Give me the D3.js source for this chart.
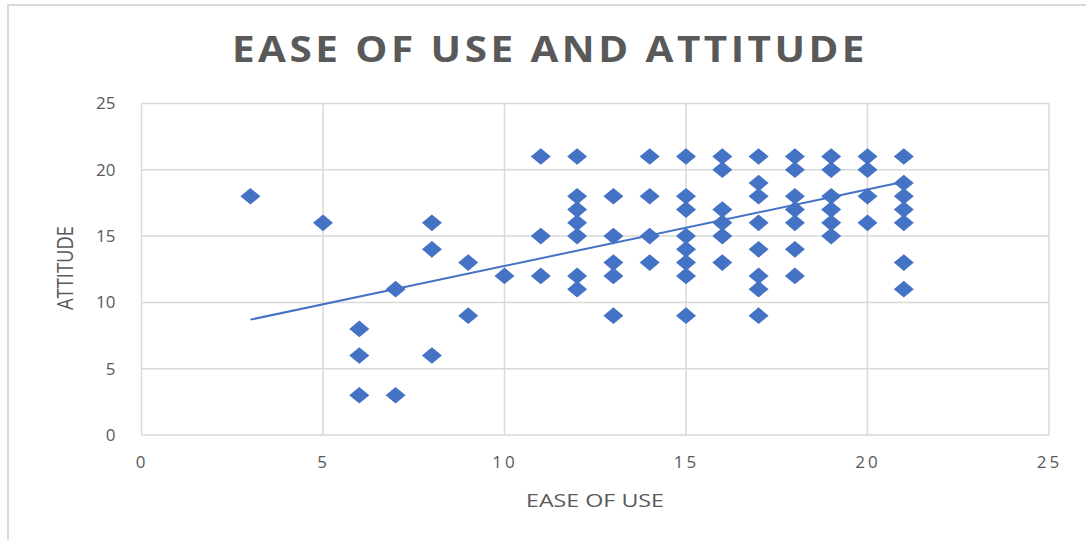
<!DOCTYPE html>
<html>
<head>
<meta charset="utf-8">
<script src="https://cdn.jsdelivr.net/npm/d3@7"></script>
<style>
    body { margin: 0; background: #fff; }
    svg { display: block; font-family: "Open Sans", sans-serif; }
</style>
</head>
<body>
<div id="chart"></div>
<script>
// ease of use value for each column of points, and the attitude values seen in that column
const easeValues = [3, 5, 6, 7, 8, 9, 10, 11, 12, 13, 14, 15, 16, 17, 18, 19, 20, 21];
const attitudeValues = [
    [18],
    [16],
    [8, 6, 3],
    [11, 3],
    [16, 14, 6],
    [13, 9],
    [12],
    [21, 15, 12],
    [21, 18, 17, 16, 15, 12, 11],
    [18, 15, 13, 12, 9],
    [21, 18, 15, 13],
    [21, 18, 17, 15, 14, 13, 12, 9],
    [21, 20, 17, 16, 15, 13],
    [21, 19, 18, 16, 14, 12, 11, 9],
    [21, 20, 18, 17, 16, 14, 12],
    [21, 20, 18, 17, 16, 15],
    [21, 20, 18, 16],
    [21, 19, 18, 17, 16, 13, 11]
];
// linear trendline ends
const trendX = [3, 21];
const trendY = [8.7, 19.1];
const xTicks = [0, 5, 10, 15, 20, 25];
const yTicks = [0, 5, 10, 15, 20, 25];

const W = 1086, H = 540;
const margin = {top: 103.5, right: 37, bottom: 105, left: 141.5};
const width = W - margin.left - margin.right;
const height = H - margin.top - margin.bottom;

const points = [];
easeValues.forEach((e, i) => attitudeValues[i].forEach(a => points.push({x: e, y: a})));

const svg = d3.select('#chart').append('svg')
    .attr('width', W)
    .attr('height', H);

// chart frame (top and left edge visible)
svg.append('path')
    .attr('d', `M8,${H} L8,5 L${W},5`)
    .attr('fill', 'none')
    .attr('stroke', '#d9d9d9')
    .attr('stroke-width', 2);

const g = svg.append('g')
    .attr('transform', `translate(${margin.left},${margin.top})`);

const x = d3.scaleLinear().domain([0, 25]).range([0, width]);
const y = d3.scaleLinear().domain([0, 25]).range([height, 0]);

// gridlines
g.append('g')
    .selectAll('line')
    .data(xTicks)
    .enter().append('line')
    .attr('x1', d => x(d)).attr('x2', d => x(d))
    .attr('y1', 0).attr('y2', height)
    .attr('stroke', '#d9d9d9')
    .attr('stroke-width', 1.5);

g.append('g')
    .selectAll('line')
    .data(yTicks)
    .enter().append('line')
    .attr('x1', 0).attr('x2', width)
    .attr('y1', d => y(d)).attr('y2', d => y(d))
    .attr('stroke', '#d9d9d9')
    .attr('stroke-width', 1.5);

// axes (labels only)
const xAxis = g.append('g')
    .attr('transform', `translate(0,${height})`)
    .call(d3.axisBottom(x).tickValues(xTicks).tickSize(0).tickPadding(21));
const yAxis = g.append('g')
    .call(d3.axisLeft(y).tickValues(yTicks).tickSize(0).tickPadding(26));
[xAxis, yAxis].forEach(a => {
    a.select('.domain').remove();
    a.selectAll('text')
        .attr('fill', '#595959')
        .style('font-family', '"Open Sans", sans-serif')
        .style('font-size', '17px');
});
xAxis.selectAll('text').style('letter-spacing', '3px');

// trendline
g.append('line')
    .attr('x1', x(trendX[0])).attr('y1', y(trendY[0]))
    .attr('x2', x(trendX[1])).attr('y2', y(trendY[1]))
    .attr('stroke', '#4472c4')
    .attr('stroke-width', 2);

// diamond markers
const dw = 10, dh = 8.3;
g.selectAll('.pt')
    .data(points)
    .enter().append('path')
    .attr('class', 'pt')
    .attr('d', `M0,${-dh} L${dw},0 L0,${dh} L${-dw},0 Z`)
    .attr('transform', d => `translate(${x(d.x)},${y(d.y)})`)
    .attr('fill', '#4472c4');

// title
svg.append('text')
    .attr('x', 550)
    .attr('y', 62)
    .attr('text-anchor', 'middle')
    .attr('textLength', 636)
    .attr('lengthAdjust', 'spacingAndGlyphs')
    .attr('fill', '#595959')
    .style('font-size', '35px')
    .style('font-weight', 'bold')
    .style('letter-spacing', '3px')
    .text('EASE OF USE AND ATTITUDE');

// axis titles
svg.append('text')
    .attr('x', 595)
    .attr('y', 507)
    .attr('text-anchor', 'middle')
    .attr('textLength', 138)
    .attr('lengthAdjust', 'spacingAndGlyphs')
    .attr('fill', '#595959')
    .style('font-size', '19px')
    .text('EASE OF USE');

svg.append('text')
    .attr('transform', 'translate(73,268) rotate(-90)')
    .attr('text-anchor', 'middle')
    .attr('textLength', 84)
    .attr('lengthAdjust', 'spacingAndGlyphs')
    .attr('fill', '#595959')
    .style('font-size', '22px')
    .text('ATTITUDE');
</script>
</body>
</html>
